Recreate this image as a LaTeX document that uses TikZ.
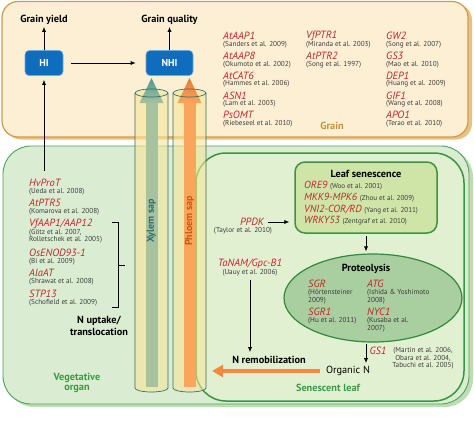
\documentclass[tikz,border=0pt]{standalone}
\usepackage{fontspec}
\setmainfont{PT Sans}
\usetikzlibrary{arrows.meta,shapes.geometric}
\definecolor{genered}{HTML}{C1272D}
\definecolor{refgray}{HTML}{3C3C3C}
\definecolor{grainfill}{HTML}{FDEFD4}
\definecolor{grainborder}{HTML}{D39A4C}
\definecolor{grainshadow}{HTML}{E8C282}
\definecolor{vegfill}{HTML}{DAEDD2}
\definecolor{vegborder}{HTML}{4FA356}
\definecolor{vegshadow}{HTML}{BFDDB5}
\definecolor{leaffill}{HTML}{E2F0D2}
\definecolor{leafborder}{HTML}{3A9444}
\definecolor{lsfill}{HTML}{CFE5A8}
\definecolor{protfill}{HTML}{A9CE9F}
\definecolor{protborder}{HTML}{2E8A3C}
\definecolor{hiblue}{HTML}{0F6DBE}
\definecolor{hiedge}{HTML}{6AAADF}
\definecolor{labelgreen}{HTML}{3C9A46}
\definecolor{graingold}{HTML}{C8923A}
\definecolor{tubefill}{HTML}{F5E59A}
\definecolor{tubeedge}{HTML}{2F6F6A}
\definecolor{xylem}{HTML}{A8C19F}
\definecolor{xylemtip}{HTML}{4E9994}
\definecolor{xylemtext}{HTML}{2E6D69}
\definecolor{phloem}{HTML}{F9A65C}
\definecolor{phloemtip}{HTML}{EE7A2E}
\definecolor{phloemtext}{HTML}{C9581A}
\definecolor{remob}{HTML}{F08A3C}
\newcommand\genetxt[1]{{\fontsize{10.3}{10.5}\selectfont\itshape\color{genered}#1}}
\newcommand\reftxt[1]{{\fontsize{7.1}{7.6}\selectfont\color{refgray}#1}}
\tikzset{
 gene/.style={font=\fontsize{10.5}{10.5}\selectfont\itshape, text=genered, inner sep=0pt, anchor=west},
 ref/.style={font=\fontsize{7.2}{7.6}\selectfont, text=refgray, inner sep=0pt, anchor=west},
 lbl/.style={font=\fontsize{10.3}{11.5}\selectfont\bfseries, inner sep=0pt},
 arr/.style={-{Latex[length=5pt,width=4.2pt]}, line width=0.8pt},
 hibox/.style={rounded corners=4pt, fill=hiblue, draw=hiedge, line width=0.6pt, text=white,
   font=\fontsize{10}{10}\selectfont\bfseries, minimum height=25pt, inner sep=0pt},
 tubeline/.style={draw=tubeedge, line width=0.7pt},
}
\begin{document}
\begin{tikzpicture}[x=1pt,y=-1pt]
\useasboundingbox (0,0) rectangle (474,423);
\fill[white] (0,0) rectangle (474,423);
% Grain compartment
\fill[grainshadow, rounded corners=16pt] (5,4) rectangle (472,139.5);
\draw[grainborder, fill=grainfill, line width=1.2pt, rounded corners=16pt] (2,1.5) rectangle (468,137);
% Vegetative organ
\fill[vegshadow, rounded corners=28pt] (6,149) rectangle (473,407);
\draw[vegborder, fill=vegfill, line width=0.9pt, rounded corners=28pt] (3,146) rectangle (469,404);
% Senescent leaf
\draw[leafborder, fill=leaffill, line width=1.5pt, rounded corners=30pt] (196,153) rectangle (464,401);
% Tubes (fill)
\foreach \cx in {151.5,189.5} {
  \fill[tubefill, fill opacity=0.6] (\cx-16.5,93) -- (\cx-16.5,388)
    arc[start angle=180,end angle=360,x radius=16.5pt,y radius=4pt] -- (\cx+16.5,93)
    arc[start angle=0,end angle=180,x radius=16.5pt,y radius=4pt] -- cycle;
}
% Sap bands
\fill[xylem] (145.5,101) rectangle (157.5,387);
\shade[top color=xylemtip, bottom color=xylem] (139.5,103) -- (151.5,78) -- (163.5,103) -- cycle;
\fill[phloem] (183.5,101) rectangle (195.5,387);
\shade[top color=phloemtip, bottom color=phloem] (177.5,103) -- (189.5,78) -- (201.5,103) -- cycle;
% Tubes (outline)
\foreach \cx in {151.5,189.5} {
  \draw[tubeline] (\cx-16.5,93) -- (\cx-16.5,388)
    arc[start angle=180,end angle=360,x radius=16.5pt,y radius=4pt] -- (\cx+16.5,93);
  \draw[tubeline] (\cx,93) ellipse [x radius=16.5pt, y radius=4pt];
}
\node[rotate=90, font=\fontsize{10}{10}\selectfont\bfseries, text=xylemtext, inner sep=0pt] (xsap) at (151.5,221) {Xylem sap};
\node[rotate=90, font=\fontsize{10}{10}\selectfont\bfseries, text=phloemtext, inner sep=0pt] (psap) at (189.5,221) {Phloem sap};

% HI / NHI
\node[hibox, minimum width=38pt] (hi) at (44,63) {HI};
\node[hibox, minimum width=47pt] (nhi) at (169.5,63) {NHI};
\node[lbl] (gy) at (44,20) {Grain yield};
\node[lbl] (gq) at (169.5,20) {Grain quality};
\draw[arr] (hi.north) -- ([yshift=-2pt]gy.south);
\draw[arr] (nhi.north) -- ([yshift=-2pt]gq.south);
\draw[arr, shorten <=8pt, shorten >=10pt] (hi.east) -- (nhi.west);
\coordinate (vstart) at (44,171);
\draw[arr, shorten >=4pt] (vstart) -- (hi.south);

% Grain genes
\node[gene] (g11) at (223,36) {AtAAP1};
\node[ref]  (r11) at (223,44.5) {(Sanders et al. 2009)};
\node[gene] (g12) at (223,55.8) {AtAAP8};
\node[ref]  (r12) at (223,64.3) {(Okumoto et al. 2002)};
\node[gene] (g13) at (223,75.6) {AtCAT6};
\node[ref]  (r13) at (223,84.1) {(Hammes et al. 2006)};
\node[gene] (g14) at (223,95.4) {ASN1};
\node[ref]  (r14) at (223,103.9) {(Lam et al. 2003)};
\node[gene] (g15) at (223,115.2) {PsOMT};
\node[ref]  (r15) at (223,123.7) {(Riebeseel et al. 2010)};
\node[gene] (g21) at (306,36) {VfPTR1};
\node[ref]  (r21) at (306,44.5) {(Miranda et al. 2003)};
\node[gene] (g22) at (306,55.8) {AtPTR2};
\node[ref]  (r22) at (306,64.3) {(Song et al. 1997)};
\node[gene] (g31) at (386,36) {GW2};
\node[ref]  (r31) at (386,44.5) {(Song et al. 2007)};
\node[gene] (g32) at (386,55.8) {GS3};
\node[ref]  (r32) at (386,64.3) {(Mao et al. 2010)};
\node[gene] (g33) at (386,75.6) {DEP1};
\node[ref]  (r33) at (386,84.1) {(Huang et al. 2009)};
\node[gene] (g34) at (386,95.4) {GIF1};
\node[ref]  (r34) at (386,103.9) {(Wang et al. 2008)};
\node[gene] (g35) at (386,115.2) {APO1};
\node[ref]  (r35) at (386,123.7) {(Terao et al. 2010)};
\node[lbl, text=graingold] (grain) at (332,126) {Grain};

% Vegetative genes
\node[gene] (v1) at (29,183) {HvProT};
\node[ref]  (vr1) at (29,192) {(Ueda et al. 2008)};
\node[gene] (v2) at (29,203) {AtPTR5};
\node[ref]  (vr2) at (29,212) {(Komarova et al. 2008)};
\node[gene] (v3) at (29,224) {VfAAP1/AAP12};
\node[ref, align=left, font=\fontsize{7.2}{7.4}\selectfont] (vr3) at (29,236.5) {(Götz et al. 2007,\\Rolletschek et al. 2005)};
\node[gene] (v4) at (29,253) {OsENOD93-1};
\node[ref]  (vr4) at (29,261.5) {(Bi et al. 2009)};
\node[gene] (v5) at (29,273) {AlaAT};
\node[ref]  (vr5) at (29,282) {(Shrawat et al. 2008)};
\node[gene] (v6) at (29,294) {STP13};
\node[ref]  (vr6) at (29,303) {(Schofield et al. 2009)};
\draw[line width=0.8pt] (112,222) -- (118,222) -- (118,307) -- (112,307);
\draw[line width=0.8pt] (118,265) -- (125,265);
\node[lbl, align=center] (nup) at (99,326) {N uptake/\\translocation};
\node[lbl, align=center, text=labelgreen, font=\fontsize{10.3}{10.8}\selectfont\bfseries] (veg) at (77,383) {Vegetative\\organ};

% Leaf senescence
\node[draw=leafborder, fill=lsfill, line width=1.5pt, rounded corners=10pt,
      minimum width=142pt, minimum height=71pt, inner sep=0pt] (lsbox) at (366,197.5) {};
\node[lbl] (lstitle) at (366,173.5) {Leaf senescence};
\node[anchor=west, inner sep=0pt] (ls1) at (304,185.5) {\genetxt{ORE9} \reftxt{(Woo et al. 2001)}};
\node[anchor=west, inner sep=0pt] (ls2) at (304,197.5) {\genetxt{MKK9-MPK6} \reftxt{(Zhou et al. 2009)}};
\node[anchor=west, inner sep=0pt] (ls3) at (304,209.5) {\genetxt{VNI2-COR/RD} \reftxt{(Yang et al. 2011)}};
\node[anchor=west, inner sep=0pt] (ls4) at (304,221) {\genetxt{WRKY53} \reftxt{(Zentgraf et al. 2010)}};

% PPDK
\node[gene, anchor=center] (ppdk) at (252,222) {PPDK};
\node[ref, anchor=center] (ppdkr) at (243,231) {(Taylor et al. 2010)};
\draw[arr, shorten <=4pt, shorten >=5pt] (ppdk.east) -- (lsbox.west |- ppdk.east);

% Proteolysis
\node[ellipse, draw=protborder, fill=protfill, line width=1.2pt, minimum width=178pt,
      minimum height=88pt, inner sep=0pt] (prot) at (373,298) {};
\draw[arr, shorten <=2pt, shorten >=2pt] (lsbox.south) -- (lsbox.south |- prot.north);
\node[lbl] (ptitle) at (366,269) {Proteolysis};
\node[gene] (sgr) at (308,284) {SGR};
\node[ref, align=left, font=\fontsize{7.2}{7.8}\selectfont] (sgrr) at (308,297) {(Hörtensteiner\\2009)};
\node[gene] (sgr1) at (308,312) {SGR1};
\node[ref]  (sgr1r) at (308,321) {(Hu et al. 2011)};
\node[gene] (atg) at (367,284) {ATG};
\node[ref, align=left, font=\fontsize{7.2}{7.8}\selectfont] (atgr) at (367,297) {(Ishida \& Yoshimoto\\2008)};
\node[gene] (nyc) at (367,312) {NYC1};
\node[ref, align=left, font=\fontsize{7.2}{7.8}\selectfont] (nycr) at (367,325) {(Kusaba et al.\\2007)};

% Senescent leaf bottom
\node[inner sep=0pt, font=\fontsize{10.3}{10.5}\selectfont] (orgn) at (348,371) {Organic N};
\draw[arr, shorten <=1pt, shorten >=3pt] (prot.south -| lsbox.south) -- (orgn.north -| lsbox.south);
\node[gene, anchor=center] (gs1) at (378,351) {GS1};
\node[ref, anchor=center, align=center, font=\fontsize{7.2}{7.4}\selectfont] (gs1r) at (423,358.5) {(Martin et al. 2006,\\Obara et al. 2004,\\Tabuchi et al. 2005)};
\node[lbl, text=labelgreen] (senleaf) at (328,388) {Senescent leaf};
\node[gene, anchor=center] (tanam) at (250,264) {TaNAM/Gpc-B1};
\node[ref, anchor=center] (tanamr) at (250,273) {(Uauy et al. 2006)};
\node[lbl] (nrem) at (269,360) {N remobilization};
\draw[arr, shorten <=3pt, shorten >=4pt] (tanamr.south) -- (tanamr.south |- nrem.north);
\coordinate (remtip) at (212,371);
\draw[remob, line width=4.5pt, -{Triangle[length=11pt,width=12pt]}, shorten <=6pt] (orgn.west) -- (remtip);
\end{tikzpicture}
\end{document}
